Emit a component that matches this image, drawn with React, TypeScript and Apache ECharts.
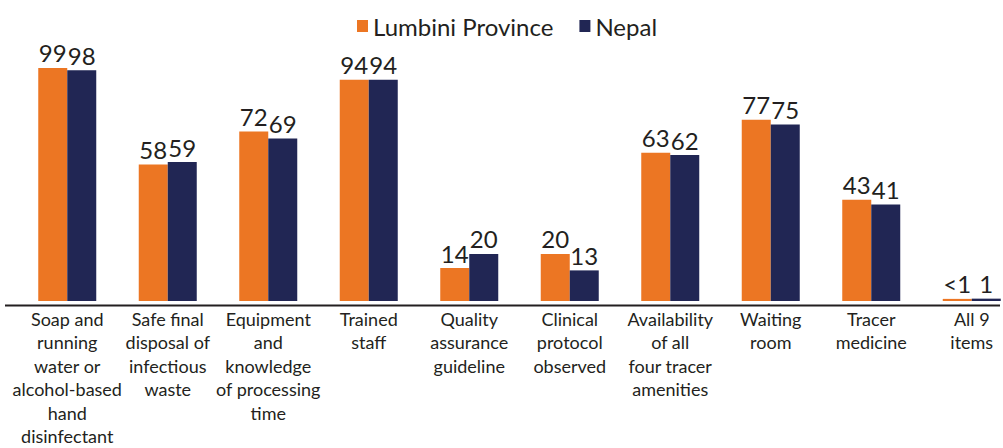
import React, { useEffect, useRef } from "react";
import * as echarts from "echarts";

const categories = [
  "Soap and\nrunning\nwater or\nalcohol-based\nhand\ndisinfectant",
  "Safe final\ndisposal of\ninfectious\nwaste",
  "Equipment\nand\nknowledge\nof processing\ntime",
  "Trained\nstaff",
  "Quality\nassurance\nguideline",
  "Clinical\nprotocol\nobserved",
  "Availability\nof all\nfour tracer\namenities",
  "Waiting\nroom",
  "Tracer\nmedicine",
  "All 9\nitems",
];
const lumbini = [99, 58, 72, 94, 14, 20, 63, 77, 43, 0.9];
const lumbiniLabels = ["99", "58", "72", "94", "14", "20", "63", "77", "43", "<1"];
const nepal = [98, 59, 69, 94, 20, 13, 62, 75, 41, 1];
const nepalLabels = ["98", "59", "69", "94", "20", "13", "62", "75", "41", "1"];

const ORANGE = "#EC7623";
const NAVY = "#212654";
const TEXT = "#231F20";
const FONT = "Lato";

export default function App() {
  const ref = useRef<HTMLDivElement>(null);
  useEffect(() => {
    document.body.style.margin = "0";
    document.body.style.overflow = "hidden";
    const chart = echarts.init(ref.current!, null, { renderer: "svg" });
    chart.setOption({
      animation: false,
      textStyle: { fontFamily: FONT, color: TEXT },
      legend: {
        top: 9,
        left: 352,
        itemWidth: 11,
        itemHeight: 12,
        itemGap: 26,
        textStyle: { fontFamily: FONT, fontSize: 24, color: TEXT },
        icon: "rect",
        data: ["Lumbini Province", "Nepal"],
      },
      grid: { left: 17, width: 1005, top: 65.6, height: 238.9 },
      xAxis: {
        type: "category",
        data: categories,
        axisLine: { show: false },
        axisTick: { show: false },
        axisLabel: {
          interval: 0,
          fontFamily: FONT,
          fontSize: 18,
          lineHeight: 23.5,
          color: TEXT,
          margin: 6,
          align: "center",
        },
      },
      yAxis: { type: "value", min: 0, max: 100, show: false, splitLine: { show: false } },
      graphic: [
        {
          type: "line",
          shape: { x1: 5, y1: 305.5, x2: 1000, y2: 305.5 },
          style: { stroke: TEXT, lineWidth: 2 },
          z: 10,
        },
      ],
      series: [
        {
          name: "Lumbini Province",
          type: "bar",
          data: lumbini,
          barWidth: 29,
          barGap: "0%",
          itemStyle: { color: ORANGE },
          label: {
            show: true,
            position: "top",
            distance: 3,
            fontFamily: FONT,
            fontSize: 24,
            color: TEXT,
            formatter: (p: any) => lumbiniLabels[p.dataIndex],
          },
        },
        {
          name: "Nepal",
          type: "bar",
          data: nepal,
          barWidth: 29,
          barGap: "0%",
          itemStyle: { color: NAVY },
          label: {
            show: true,
            position: "top",
            distance: 3,
            fontFamily: FONT,
            fontSize: 24,
            color: TEXT,
            formatter: (p: any) => nepalLabels[p.dataIndex],
          },
        },
      ],
    });
    return () => chart.dispose();
  }, []);
  return (
    <div style={{ width: 1003, height: 448, overflow: "hidden" }}>
      <div ref={ref} style={{ width: 1025, height: 448 }} />
    </div>
  );
}
